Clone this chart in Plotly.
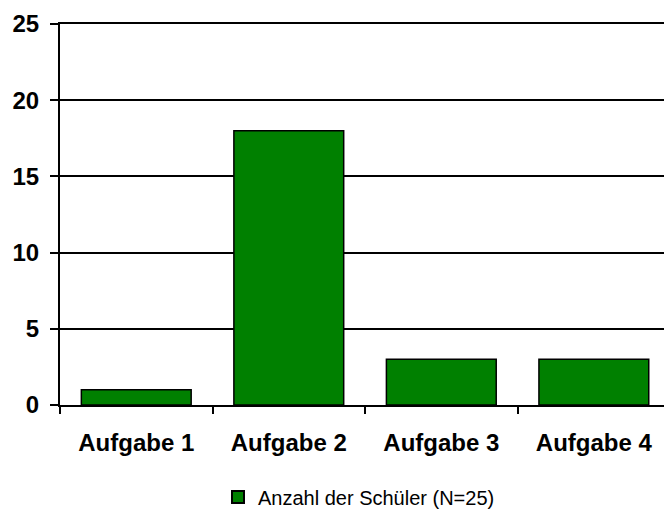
import plotly.graph_objects as go

categories = ["Aufgabe 1", "Aufgabe 2", "Aufgabe 3", "Aufgabe 4"]
counts = [1, 18, 3, 3]
series_name = "Anzahl der Schüler (N=25)"
y_ticks = [0, 5, 10, 15, 20, 25]

FONT = "Liberation Sans, Arial, sans-serif"

fig = go.Figure()
fig.add_trace(go.Bar(
    x=categories,
    y=counts,
    name=series_name,
    marker=dict(color="#008000", line=dict(color="black", width=1.5)),
    showlegend=True,
))

fig.update_layout(
    width=664,
    height=510,
    margin=dict(l=60, r=0, t=24, b=105, autoexpand=False),
    paper_bgcolor="white",
    plot_bgcolor="white",
    bargap=0.28,
    font=dict(family=FONT, color="black"),
    showlegend=True,
    legend=dict(
        orientation="h",
        x=0.495,
        xanchor="center",
        y=-0.19,
        yanchor="top",
        font=dict(size=20, family=FONT),
        itemwidth=30,
        itemsizing="constant",
    ),
    xaxis=dict(
        type="category",
        range=[-0.5, 3.46],
        showline=True,
        linecolor="black",
        linewidth=2,
        mirror=True,
        ticks="outside",
        tickson="boundaries",
        ticklen=7,
        tickwidth=2,
        tickcolor="black",
        showgrid=False,
        tickfont=dict(size=24, family=FONT, weight="bold"),
        ticklabelstandoff=15,
    ),
    yaxis=dict(
        range=[0, 25],
        tickvals=y_ticks,
        showline=True,
        linecolor="black",
        linewidth=2,
        ticks="outside",
        ticklen=8,
        tickwidth=2,
        tickcolor="black",
        showgrid=True,
        gridcolor="black",
        gridwidth=1.5,
        zeroline=False,
        tickfont=dict(size=24, family=FONT, weight="bold"),
        ticklabelstandoff=6,
    ),
)

fig.write_html("out.html")
